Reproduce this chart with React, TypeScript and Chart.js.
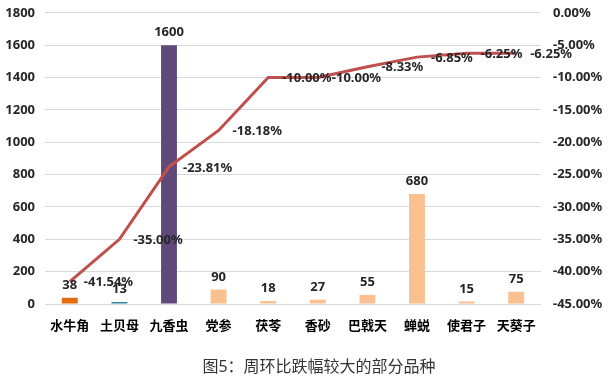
import React, { useEffect, useRef } from "react";
import { Chart, registerables } from "chart.js";

Chart.register(...registerables);

const categories = ["水牛角", "土贝母", "九香虫", "党参", "茯苓", "香砂", "巴戟天", "蝉蜕", "使君子", "天葵子"];
const prices = [38, 13, 1600, 90, 18, 27, 55, 680, 15, 75];
const changes = [-41.54, -35.0, -23.81, -18.18, -10.0, -10.0, -8.33, -6.85, -6.25, -6.25];
const barColors = ["#E46C0A", "#31859C", "#5F497A", "#FAC090", "#FAC090", "#FAC090", "#FAC090", "#FAC090", "#FAC090", "#FAC090"];
const chartTitle = "图5：周环比跌幅较大的部分品种";

const FONT = "'Noto Sans', 'Noto Sans CJK SC', sans-serif";
const SHIFT = 7;

const labelPlugin = {
  id: "customLabels",
  afterDatasetsDraw(chart: any) {
    const ctx = chart.ctx;
    ctx.save();
    const barMeta = chart.getDatasetMeta(0);
    ctx.font = `bold 13px ${FONT}`;
    ctx.fillStyle = "#262626";
    ctx.textAlign = "center";
    ctx.textBaseline = "bottom";
    barMeta.data.forEach((el: any, i: number) => {
      ctx.fillText(String(prices[i]), el.x, el.y - 6);
    });
    const lineMeta = chart.getDatasetMeta(1);
    ctx.textAlign = "left";
    ctx.textBaseline = "middle";
    lineMeta.data.forEach((el: any, i: number) => {
      ctx.fillText(changes[i].toFixed(2) + "%", el.x + 14, el.y + 1);
    });
    ctx.font = `16px ${FONT}`;
    ctx.fillStyle = "#333333";
    ctx.textAlign = "center";
    ctx.textBaseline = "middle";
    ctx.fillText(chartTitle, 319, 367 + SHIFT);
    ctx.restore();
  },
};

export default function App() {
  const ref = useRef<HTMLCanvasElement>(null);
  useEffect(() => {
    if (!ref.current) return;
    const chart = new Chart(ref.current, {
      type: "bar",
      data: {
        labels: categories,
        datasets: [
          {
            type: "bar",
            data: prices,
            backgroundColor: barColors,
            barPercentage: 0.32,
            categoryPercentage: 1,
            yAxisID: "y",
            order: 2,
          },
          {
            type: "line",
            data: changes,
            borderColor: "#C0504D",
            borderWidth: 3,
            pointRadius: 0,
            tension: 0,
            yAxisID: "y1",
            order: 1,
          },
        ] as any,
      },
      options: {
        responsive: false,
        animation: false,
        layout: { padding: { top: 4, left: 0, right: 0, bottom: 0 } },
        plugins: { legend: { display: false }, tooltip: { enabled: false } },
        scales: {
          x: {
            grid: { display: false },
            border: { display: false },
            ticks: { color: "#000", font: { family: FONT, size: 13, weight: "bold" }, padding: 6, maxRotation: 0, autoSkip: false },
            afterFit: (s: any) => { s.height = 77; },
          },
          y: {
            position: "left",
            min: 0,
            max: 1800,
            ticks: {
              stepSize: 200,
              color: "#262626",
              font: { family: FONT, size: 13, weight: "bold" },
              padding: 10,
              callback: (v: any) => String(v),
            },
            grid: { color: "#D9D9D9", drawTicks: false, lineWidth: 1 },
            border: { display: false },
            afterFit: (s: any) => { s.width = 45; },
          },
          y1: {
            position: "right",
            min: -45,
            max: 0,
            ticks: {
              stepSize: 5,
              color: "#262626",
              font: { family: FONT, size: 13, weight: "bold" },
              padding: 12,
              callback: (v: any) => Number(v).toFixed(2) + "%",
            },
            grid: { display: false, drawTicks: false },
            border: { display: false },
            afterFit: (s: any) => { s.width = 68; },
          },
        },
      } as any,
      plugins: [labelPlugin],
    });
    return () => chart.destroy();
  }, []);
  return (
    <div style={{ position: "fixed", left: 0, top: -SHIFT, width: 609, height: 381 + SHIFT, background: "#fff" }}>
      <canvas ref={ref} width={609} height={381 + SHIFT} />
    </div>
  );
}
